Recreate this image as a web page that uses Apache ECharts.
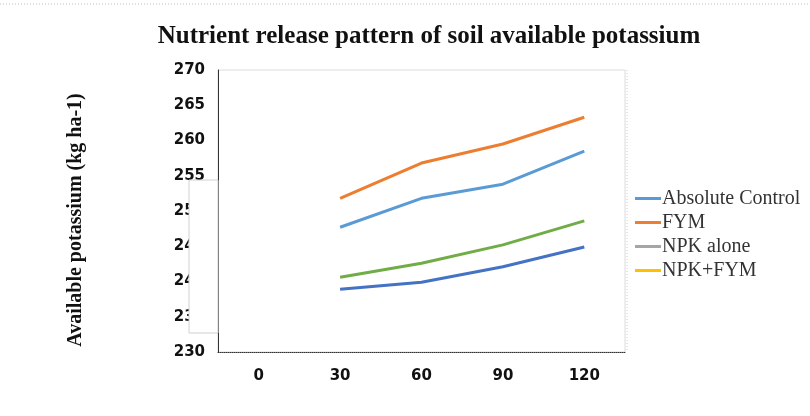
<!DOCTYPE html>
<html><head><meta charset="utf-8">
<script src="https://cdn.jsdelivr.net/npm/echarts@6/dist/echarts.min.js"></script>
<style>html,body{margin:0;padding:0;background:#fff}#c{width:810px;height:416px}</style>
</head><body><div id="c"></div>
<script>
var categories = ['0','30','60','90','120'];
var absoluteControl = [null, 247.7, 251.8, 253.8, 258.5];
var fym = [null, 251.8, 256.8, 259.5, 263.3];
var npkAlone = [null, 240.6, 242.6, 245.2, 248.6];
var npkFym = [null, 238.9, 239.9, 242.1, 244.9];
var legendNames = ['Absolute Control','FYM','NPK alone','NPK+FYM'];
var yMin = 230, yMax = 270, yStep = 5;

var chart = echarts.init(document.getElementById('c'));
chart.setOption({
  animation: false,
  backgroundColor: '#fff',
  title: {
    text: 'Nutrient release pattern of soil available potassium',
    left: 424, textAlign: 'center', top: 19,
    textStyle: {fontFamily: 'Liberation Serif', fontWeight: 'bold', fontSize: 25, color: '#111'}
  },
  legend: {
    data: legendNames, orient: 'vertical', left: 630, top: 183,
    itemWidth: 26, itemHeight: 3, itemGap: 3,
    icon: 'rect',
    textStyle: {fontFamily: 'Liberation Serif', fontSize: 20, color: '#333', padding: [0,0,0,-4], lineHeight: 21}
  },
  grid: {left: 218, top: 70, width: 407, height: 282, show: true, borderColor: '#dcdcdc', borderWidth: 1},
  xAxis: {
    type: 'category', data: categories, boundaryGap: true,
    axisLine: {lineStyle: {color: '#333', type: 'dotted'}},
    axisTick: {show: false},
    axisLabel: {fontFamily: 'DejaVu Sans', fontWeight: 'bold', fontSize: 15, color: '#111', margin: 17}
  },
  yAxis: {
    type: 'value', min: yMin, max: yMax, interval: yStep,
    name: 'Available potassium (kg ha-1)', nameLocation: 'middle', nameGap: 132, nameRotate: 90,
    nameTextStyle: {fontFamily: 'Liberation Serif', fontWeight: 'bold', fontSize: 20, color: '#111', padding: [0, 18, 0, 0]},
    axisLine: {show: true, lineStyle: {color: '#333'}},
    axisTick: {show: false},
    splitLine: {show: false},
    axisLabel: {fontFamily: 'DejaVu Sans', fontWeight: 'bold', fontSize: 15, color: '#111', margin: 13}
  },
  series: [
    {name: 'Absolute Control', type: 'line', data: absoluteControl, symbol: 'none', color: '#5B9BD5', lineStyle: {width: 3}},
    {name: 'FYM', type: 'line', data: fym, symbol: 'none', color: '#ED7D31', lineStyle: {width: 3}},
    {name: 'NPK alone', type: 'line', data: [], symbol: 'none', color: '#A5A5A5', lineStyle: {width: 3}},
    {name: 'NPK+FYM', type: 'line', data: [], symbol: 'none', color: '#FFC000', lineStyle: {width: 3}},
    {name: 'npkAloneLine', type: 'line', data: npkAlone, symbol: 'none', color: '#70AD47', lineStyle: {width: 3}},
    {name: 'npkFymLine', type: 'line', data: npkFym, symbol: 'none', color: '#4472C4', lineStyle: {width: 3}}
  ],
  graphic: [
    {type: 'line', shape: {x1: 0, y1: 4, x2: 810, y2: 4}, style: {stroke: '#bbb', lineDash: [1,2], lineWidth: 1}},
    {type: 'rect', shape: {x: 189, y: 180, width: 29, height: 153}, z: 100,
     style: {fill: '#fff', stroke: '#d0d0d0', lineWidth: 1}},
    {type: 'line', shape: {x1: 627, y1: 70, x2: 627, y2: 352}, style: {stroke: '#ccc', lineDash: [1,2], lineWidth: 1}}
  ]
});
</script></body></html>
